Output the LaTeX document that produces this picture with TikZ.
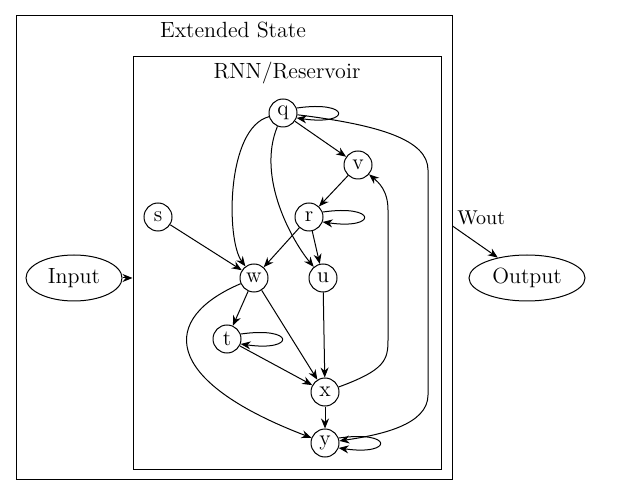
\documentclass[tikz,border=0pt]{standalone}
\usepackage{tikz}
\usetikzlibrary{arrows.meta,shapes.geometric,positioning,calc}

\begin{document}
\begin{tikzpicture}[
    x=0.5pt, y=-0.5pt,
    nd/.style={draw, circle, minimum size=14pt, inner sep=0pt, line width=0.5pt, font=\fontsize{11}{13}\selectfont},
    io/.style={draw, ellipse, minimum width=48pt, minimum height=23pt, inner sep=0pt, line width=0.5pt, font=\fontsize{11}{13}\selectfont},
    clus/.style={draw, line width=0.5pt, inner sep=0pt},
    ttl/.style={font=\fontsize{11}{13}\selectfont},
    arr/.style={-{Stealth[length=5pt, width=4pt]}, line width=0.5pt}
]
\useasboundingbox (0,0) rectangle (631,496);

% clusters
\node[clus, minimum width=218pt, minimum height=231.5pt] (ext) at (234,247.5) {};
\node[ttl] (extttl) at (233,30) {Extended State};
\node[clus, minimum width=154pt, minimum height=206pt] (rnn) at (287,263) {};
\node[ttl] (rnnttl) at (287,73) {RNN/Reservoir};

% reservoir units
\node[nd] (q) at (283,113) {q};
\node[nd] (v) at (358,165) {v};
\node[nd] (s) at (158,217) {s};
\node[nd] (r) at (309,217) {r};
\node[nd] (w) at (254,278) {w};
\node[nd] (u) at (323,278) {u};
\node[nd] (t) at (227,339) {t};
\node[nd] (x) at (325,392) {x};
\node[nd] (y) at (325,443) {y};

\node[io] (in) at (74,278) {Input};
\node[io, minimum width=58pt] (out) at (527,278) {Output};

\draw[arr] (in) -- (in -| rnn.west);
\draw[arr] ([yshift=10.75pt]ext.east) -- node[pos=0.05, above right, inner sep=1pt] {Wout} (out);

\draw[arr] (q) -- (v);
\draw[arr] (q) .. controls (226,128) and (226,240) .. (w);
\draw[arr] (q) .. controls (256,178) and (293,242) .. (u);
\draw[arr] (q) .. controls (380,125) and (428,140) .. (428,170) -- (428,395) .. controls (428,425) and (380,435) .. (y);
\draw[arr] (v) -- (r);
\draw[arr] (r) -- (w);
\draw[arr] (r) -- (u);
\draw[arr] (s) -- (w);
\draw[arr] (w) -- (t);
\draw[arr] (w) -- (x);
\draw[arr] (w) .. controls (160,318) and (160,380) .. (y);
\draw[arr] (t) -- (x);
\draw[arr] (u) -- (x);
\draw[arr] (x) .. controls (385,370) and (388,360) .. (388,340) -- (388,210) .. controls (388,190) and (378,182) .. (v);
\draw[arr] (x) -- (y);

% self loops
\draw[arr] (q.20) .. controls +(55,-8) and +(55,8) .. (q.-20);
\draw[arr] (r.20) .. controls +(55,-8) and +(55,8) .. (r.-20);
\draw[arr] (t.20) .. controls +(55,-8) and +(55,8) .. (t.-20);
\draw[arr] (y.20) .. controls +(55,-8) and +(55,8) .. (y.-20);
\end{tikzpicture}
\end{document}
